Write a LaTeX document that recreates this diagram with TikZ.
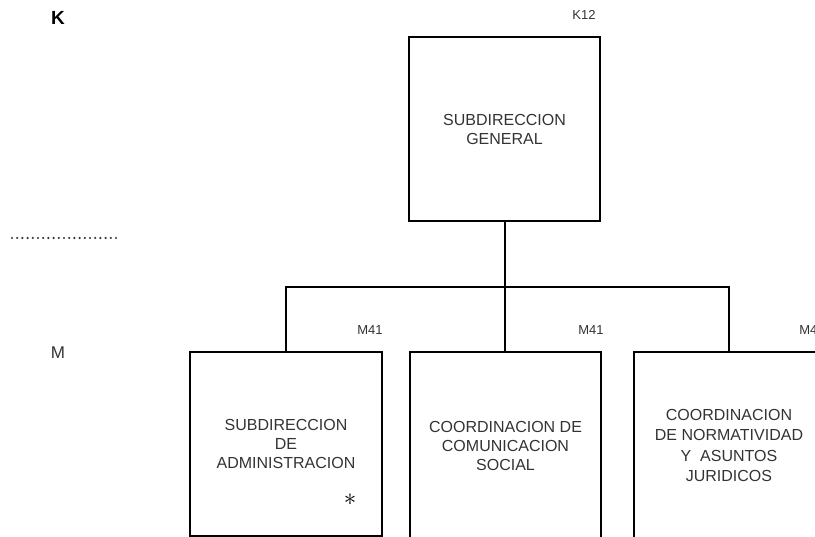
\documentclass[tikz,border=0pt]{standalone}
\usepackage{fontspec}
\setmainfont{Liberation Sans}
\definecolor{txt}{HTML}{333333}
\tikzset{
  unit/.style={draw=black, line width=1.8pt, rectangle, inner sep=2pt, align=center,
    text=txt, font=\fontsize{16}{19}\selectfont},
  code/.style={text=txt, font=\fontsize{13}{15}\selectfont, inner sep=0pt},
  level/.style={text=black, inner sep=0pt},
  link/.style={draw=black, line width=1.8pt},
}
\begin{document}
\begin{tikzpicture}[x=1pt,y=-1pt]
\useasboundingbox (0,0) rectangle (815,537);
\clip (0,0) rectangle (815,537);
% level letters
\node[level, font=\fontsize{19}{20}\selectfont\bfseries] (K) at (58,18) {K};
\node[level, text=txt, font=\fontsize{17}{20}\selectfont] (M) at (58,353) {M};
\coordinate (d1) at (12,238);
\coordinate (d2) at (121,238);
\draw[line width=2.4pt, line cap=round, dash pattern=on 0pt off 5.2pt, draw=black!80] (d1) -- (d2);
% top box
\node[unit, minimum width=191pt, minimum height=184pt] (top) at (504.5,129) {SUBDIRECCION\\GENERAL};
\node[code] (ktop) at (584,15) {K12};
% bottom boxes
\node[unit, minimum width=192pt, minimum height=184pt] (b1) at (286,444) {SUBDIRECCION\\DE\\ADMINISTRACION};
\node[unit, minimum width=191pt, minimum height=187pt] (b2) at (505.5,445.5) {COORDINACION DE\\COMUNICACION\\SOCIAL};
\node[unit, minimum width=190pt, minimum height=187pt, font=\fontsize{16}{20.5}\selectfont] (b3) at (729,445.5) {COORDINACION\\DE NORMATIVIDAD\\Y\ \ ASUNTOS\\JURIDICOS};
\node[code] (m1) at (370,330) {M41};
\node[code] (m2) at (591,330) {M41};
\node[code] (m3) at (812,330) {M41};
\node[inner sep=0pt, font=\fontsize{26}{26}\selectfont] (star) at (350,500) {$\ast$};
% connectors
\coordinate (bus) at (505,287);
\draw[link] (top.south -| bus) -- (bus);
\draw[link] (b1.north) |- (bus) -| (b3.north);
\draw[link] (bus) -- (b2.north -| bus);
\end{tikzpicture}
\end{document}
